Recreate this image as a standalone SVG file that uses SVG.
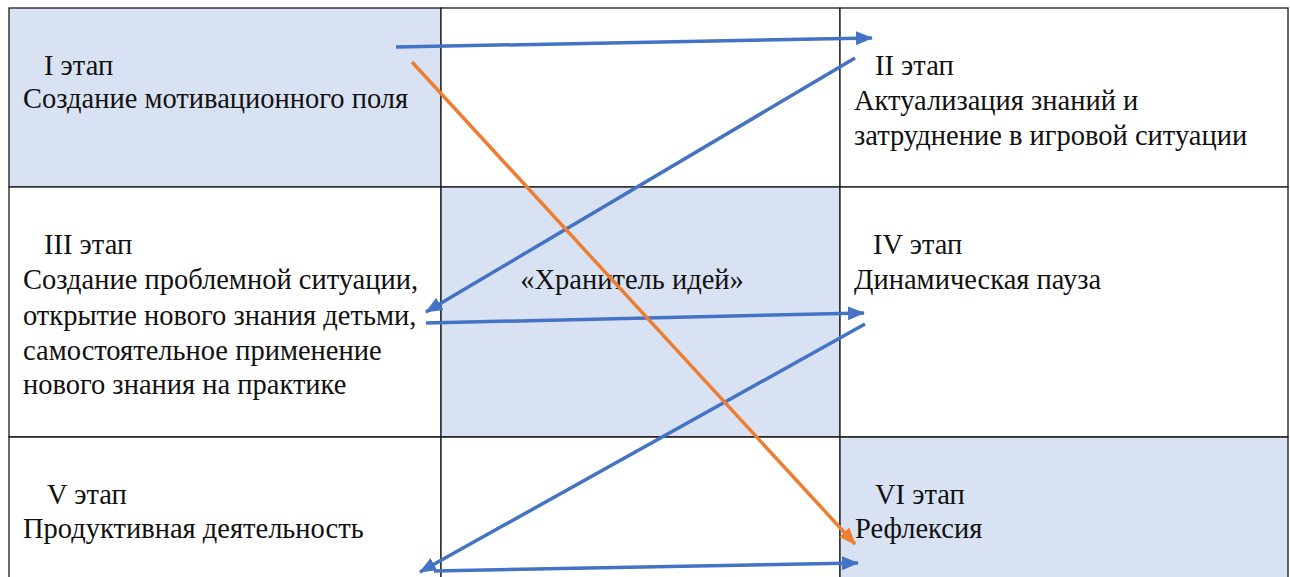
<svg xmlns="http://www.w3.org/2000/svg" width="1290" height="577" viewBox="0 0 1290 577">
<style>
.cell{stroke:#1a1a1a;stroke-width:1.3}
.sh{fill:#D9E2F3}
.wh{fill:#ffffff}
.b{stroke:#4472C4;stroke-width:3.5;fill:none;marker-end:url(#ab)}
.o{stroke:#ED7D31;stroke-width:3.5;fill:none;marker-end:url(#ao)}
</style>
<defs>
<marker id="ab" markerUnits="userSpaceOnUse" markerWidth="20" markerHeight="16" refX="16" refY="7" orient="auto"><path d="M0,0 L17,7 L0,14 z" fill="#4472C4"/></marker>
<marker id="ao" markerUnits="userSpaceOnUse" markerWidth="20" markerHeight="16" refX="16" refY="7" orient="auto"><path d="M0,0 L17,7 L0,14 z" fill="#ED7D31"/></marker>
</defs>
<rect width="1290" height="577" fill="#ffffff"/>
<g font-family="Liberation Serif, serif" font-size="28.5" fill="#111111">
<g id="cell-1">
<rect class="cell sh" x="9" y="8" width="432" height="179"/>
<text x="44" y="75">I этап</text>
<text x="23" y="108">Создание мотивационного поля</text>
</g>
<g id="cell-mid1"><rect class="cell wh" x="441" y="8" width="399" height="179"/></g>
<g id="cell-2">
<rect class="cell wh" x="840" y="8" width="448" height="179"/>
<text x="875" y="75">II этап</text>
<text x="854" y="110">Актуализация знаний и</text>
<text x="854" y="145">затруднение в игровой ситуации</text>
</g>
<g id="cell-3">
<rect class="cell wh" x="9" y="187" width="432" height="250"/>
<text x="44" y="254">III этап</text>
<text x="23" y="289">Создание проблемной ситуации,</text>
<text x="23" y="325">открытие нового знания детьми,</text>
<text x="23" y="360">самостоятельное применение</text>
<text x="23" y="394">нового знания на практике</text>
</g>
<g id="cell-keeper">
<rect class="cell sh" x="441" y="187" width="399" height="250"/>
<text x="632" y="289" text-anchor="middle">«Хранитель идей»</text>
</g>
<g id="cell-4">
<rect class="cell wh" x="840" y="187" width="448" height="250"/>
<text x="873" y="254">IV этап</text>
<text x="854" y="289">Динамическая пауза</text>
</g>
<g id="cell-5">
<path class="cell wh" d="M9,590 V437 H441 V590"/>
<text x="47" y="504">V этап</text>
<text x="23" y="538">Продуктивная деятельность</text>
</g>
<g id="cell-mid3"><path class="cell wh" d="M441,590 V437 H840 V590"/></g>
<g id="cell-6">
<path class="cell sh" d="M840,590 V437 H1288 V590"/>
<text x="875" y="504">VI этап</text>
<text x="855" y="538">Рефлексия</text>
</g>
</g>
<g id="connectors">
<line class="b" x1="396" y1="47" x2="872" y2="38"/>
<line class="b" x1="855" y1="58" x2="426" y2="312"/>
<line class="b" x1="426" y1="323" x2="864" y2="313"/>
<line class="b" x1="865" y1="324" x2="420" y2="572"/>
<line class="b" x1="434" y1="571" x2="858" y2="563"/>
<line class="o" x1="412" y1="62" x2="855" y2="544"/>
</g>
</svg>
